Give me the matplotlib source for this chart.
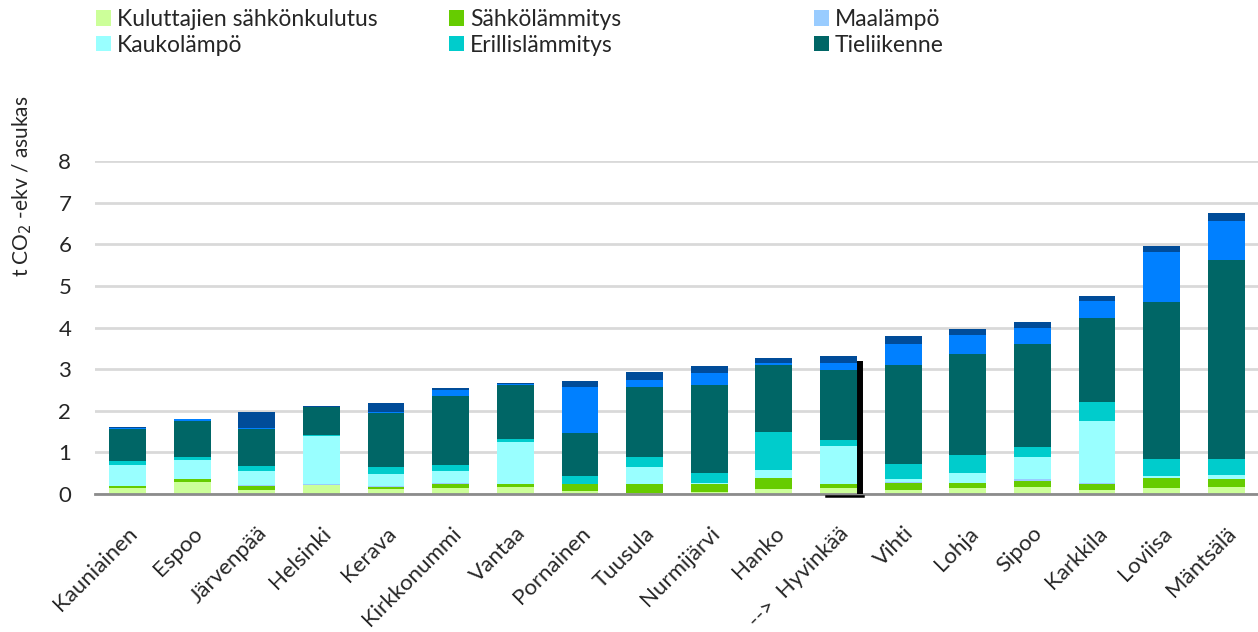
import numpy as np
import matplotlib
matplotlib.use("Agg")
import matplotlib.pyplot as plt
from matplotlib.patches import Patch

plt.rcParams['font.family'] = ['Lato', 'DejaVu Sans']

# Kunnat järjestyksessä
kunnat = ["Kauniainen", "Espoo", "Järvenpää", "Helsinki", "Kerava", "Kirkkonummi",
          "Vantaa", "Pornainen", "Tuusula", "Nurmijärvi", "Hanko", "-->  Hyvinkää",
          "Vihti", "Lohja", "Sipoo", "Karkkila", "Loviisa", "Mäntsälä"]

# Päästöt, t CO2-ekv / asukas (luettu kuvasta)
kulutussahko = [0.15, 0.29, 0.10, 0.22, 0.12, 0.14, 0.17, 0.07, 0.02, 0.05, 0.12, 0.14, 0.10, 0.14, 0.17, 0.10, 0.14, 0.17]
sahkolammitys = [0.03, 0.07, 0.10, 0.00, 0.05, 0.10, 0.07, 0.17, 0.22, 0.19, 0.26, 0.10, 0.16, 0.12, 0.14, 0.14, 0.24, 0.19]
maalampo = [0.02, 0.00, 0.02, 0.02, 0.03, 0.02, 0.00, 0.00, 0.00, 0.00, 0.00, 0.00, 0.03, 0.00, 0.05, 0.02, 0.00, 0.00]
kaukolampo = [0.50, 0.46, 0.34, 1.16, 0.28, 0.28, 1.01, 0.00, 0.41, 0.02, 0.20, 0.91, 0.08, 0.24, 0.53, 1.49, 0.05, 0.10]
erillislammitys = [0.09, 0.07, 0.12, 0.02, 0.17, 0.15, 0.07, 0.19, 0.24, 0.24, 0.91, 0.15, 0.34, 0.44, 0.24, 0.46, 0.41, 0.38]
tieliikenne = [0.76, 0.87, 0.89, 0.67, 1.30, 1.66, 1.30, 1.04, 1.68, 2.12, 1.61, 1.68, 2.40, 2.43, 2.48, 2.02, 3.78, 4.79]
muu_a = [0.03, 0.03, 0.02, 0.00, 0.02, 0.14, 0.03, 1.10, 0.17, 0.29, 0.05, 0.17, 0.50, 0.45, 0.38, 0.41, 1.20, 0.93]
muu_b = [0.02, 0.02, 0.39, 0.02, 0.22, 0.05, 0.02, 0.15, 0.19, 0.17, 0.12, 0.17, 0.19, 0.15, 0.14, 0.12, 0.14, 0.19]

sarjat = [
    ("Kuluttajien sähkönkulutus", kulutussahko, "#CCFF99"),
    ("Sähkölämmitys", sahkolammitys, "#66CC00"),
    ("Maalämpö", maalampo, "#99CCFF"),
    ("Kaukolämpö", kaukolampo, "#99FFFF"),
    ("Erillislämmitys", erillislammitys, "#00CCCC"),
    ("Tieliikenne", tieliikenne, "#006666"),
    (None, muu_a, "#0080FF"),
    (None, muu_b, "#004C99"),
]

teksti = '#262626'


def main():
    fig = plt.figure(figsize=(12.58, 6.32), dpi=100)
    ax = fig.add_axes([0.0755, 0.2184, 0.9245, 0.5268])

    x = np.arange(len(kunnat))
    pohja = np.zeros(len(kunnat))
    for nimi, arvot, vari in sarjat:
        ax.bar(x, arvot, width=0.57, bottom=pohja, color=vari, zorder=3)
        pohja += np.array(arvot)

    # akselit
    ax.set_xlim(-0.503, 17.49)
    ax.set_ylim(0, 8)
    ax.set_yticks(range(0, 9))
    ax.grid(axis='y', color='#D9D9D9', linewidth=2, zorder=0)
    for s in ['top', 'right', 'left']:
        ax.spines[s].set_visible(False)
    ax.spines['bottom'].set_color('#8C8C8C')
    ax.spines['bottom'].set_linewidth(2)
    ax.spines['bottom'].set_zorder(4)
    ax.tick_params(axis='both', length=0, labelsize=16, labelcolor=teksti)
    ax.tick_params(axis='y', pad=17)
    ax.tick_params(axis='x', pad=21)
    ax.set_xticks(x)
    ax.set_xticklabels(kunnat, rotation=45, ha='right', rotation_mode='anchor', fontsize=16)

    # Hyvinkää korostus
    ax.plot([11.33, 11.33], [0, 3.2], color='black', linewidth=4.3, zorder=5, solid_capstyle='butt')
    ax.plot([10.80, 11.38], [-0.05, -0.05], color='black', linewidth=1.8, zorder=5, clip_on=False)

    # y-akselin otsikko
    fig.text(0.0175, 0.705, "t CO$_2$ -ekv / asukas", rotation=90, ha='center', va='center',
             fontsize=15, color=teksti)

    # selite kolmessa sarakkeessa
    kahvat = [Patch(facecolor=v, label=n) for n, a, v in sarjat if n]
    sarakkeet = [(0.069, [0, 3]), (0.350, [1, 4]), (0.640, [2, 5])]
    for xpos, idx in sarakkeet:
        leg = fig.legend(handles=[kahvat[i] for i in idx], loc='upper left', bbox_to_anchor=(xpos, 1.0),
                         frameon=False, fontsize=16.5, handlelength=0.65, handleheight=0.65,
                         handletextpad=0.25, labelspacing=0.2, borderaxespad=0)
        for t in leg.get_texts():
            t.set_color(teksti)

    fig.savefig("out.png", dpi=100)


if __name__ == "__main__":
    main()
